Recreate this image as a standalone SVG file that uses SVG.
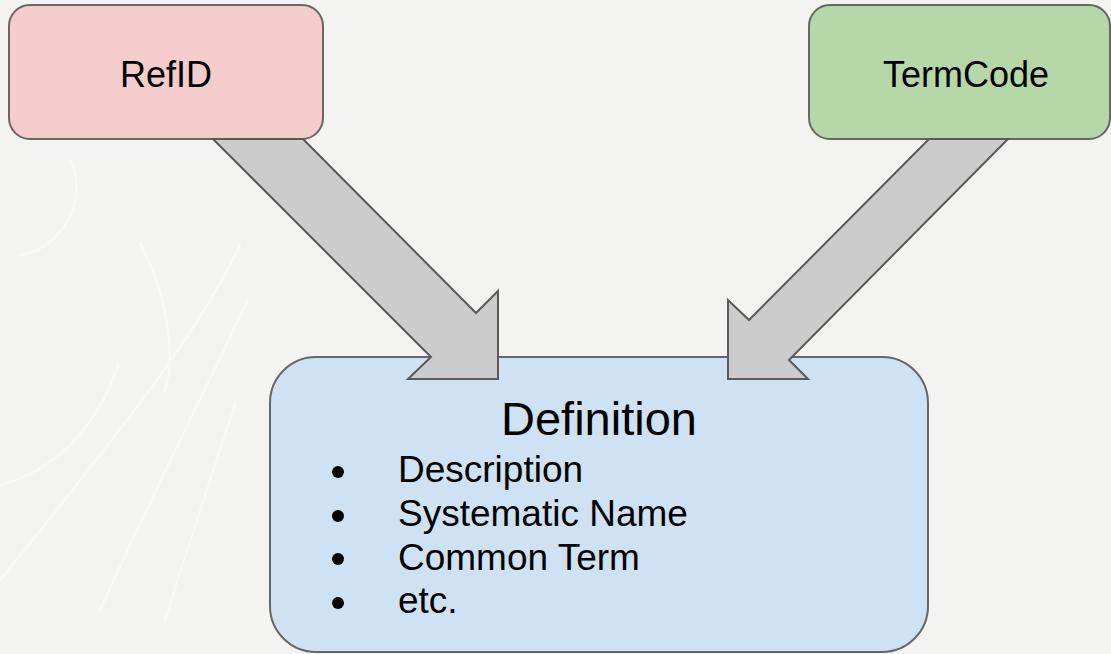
<svg xmlns="http://www.w3.org/2000/svg" width="1111" height="654" viewBox="0 0 1111 654">
<style>
.box{stroke:#666666;stroke-width:2}
.arrow{fill:#cccccc;stroke:#595959;stroke-width:2;stroke-linejoin:miter}
.lbl{font-family:"Liberation Sans",Arial,sans-serif;font-size:36px;fill:#000000}
.item{font-family:"Liberation Sans",Arial,sans-serif;font-size:37px;fill:#000000}
.title{font-family:"Liberation Sans",Arial,sans-serif;font-size:47px;fill:#000000}
.tex{fill:none;stroke:#f8f8f8;stroke-width:2.5;stroke-linecap:round}
</style>
<rect x="0" y="0" width="1111" height="654" fill="#f3f3f2"/>
<g id="texture">
<path class="tex" d="M140 243 C170 300 175 360 165 390"/>
<path class="tex" d="M240 245 C200 330 130 420 0 580"/>
<path class="tex" d="M248 300 C200 400 150 500 100 610"/>
<path class="tex" d="M235 405 C210 480 190 540 165 620"/>
<path class="tex" d="M118 365 C100 420 60 470 0 485"/>
<path class="tex" d="M70 160 C90 200 60 250 20 255"/>
</g>
<g id="node-refid">
<rect class="box" x="9" y="5" width="314" height="134" rx="21" fill="#f4cccc"/>
<text class="lbl" x="166" y="87" text-anchor="middle">RefID</text>
</g>
<g id="node-termcode">
<rect class="box" x="809" y="5" width="301" height="134" rx="21" fill="#b6d7a8"/>
<text class="lbl" x="966" y="87" text-anchor="middle">TermCode</text>
</g>
<g id="node-definition">
<rect class="box" x="270" y="357" width="658" height="295" rx="46" fill="#cfe2f3"/>
<text class="title" x="599" y="435" text-anchor="middle">Definition</text>
<circle cx="338" cy="472" r="6" fill="#000"/>
<circle cx="338" cy="516" r="6" fill="#000"/>
<circle cx="338" cy="559" r="6" fill="#000"/>
<circle cx="338" cy="603" r="6" fill="#000"/>
<text class="item" x="398" y="482">Description</text>
<text class="item" x="398" y="526">Systematic Name</text>
<text class="item" x="398" y="570">Common Term</text>
<text class="item" x="398" y="613">etc.</text>
</g>
<g id="connectors">
<polygon class="arrow" points="213,139 303,139 476,313 498,291 498,379 408,379 431,357"/>
<polygon class="arrow" points="1008,139 929,139 749,320 728,300 728,379 808,379 789,360"/>
</g>
</svg>
